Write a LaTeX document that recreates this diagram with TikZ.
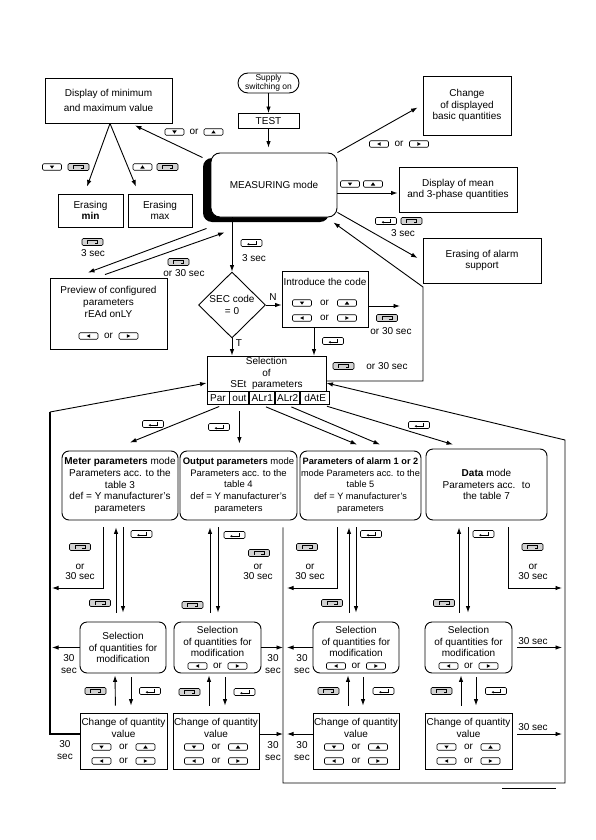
\documentclass[tikz,border=0pt]{standalone}
\usepackage{fontspec}
\setmainfont{Liberation Sans}
\usetikzlibrary{shapes.geometric,shadows,arrows.meta}

\newcounter{lc}
\newcommand{\klbl}[2]{\stepcounter{lc}\node[txt] (t\arabic{lc}) at (#1) {#2};}
\newcommand{\kkey}[2]{\stepcounter{lc}\node[#2] (k\arabic{lc}) at (#1) {};}
\newcommand{\keyor}[4]{\klbl{#1}{or}\kkey{[xshift=-#2pt]#1}{#3}\kkey{[xshift=#2pt]#1}{#4}}

\begin{document}
\begin{tikzpicture}[x=1pt, y=-1pt, line width=0.9pt,
	font=\fontsize{10}{11.7}\selectfont,
	arr/.style={-{Latex[length=6.5pt,width=4.5pt]}},
	box/.style={draw, align=center, inner sep=1pt},
	rbox/.style={box, rounded corners=7pt},
	txt/.style={inner sep=0pt, align=center},
	cell/.style={draw, minimum height=13pt, inner sep=0pt, anchor=north west},
	key/.style={draw, rounded corners=1.2pt, minimum width=19pt, minimum height=6.5pt, inner sep=0pt, line width=0.6pt},
	kdn/.style={key, path picture={\fill[sharp corners] ([shift={(-2.2pt,1.5pt)}]path picture bounding box.center) -- ++(4.4pt,0pt) -- ++(-2.2pt,-3.2pt) -- cycle;}},
	kup/.style={key, path picture={\fill[sharp corners] ([shift={(-2.2pt,-1.5pt)}]path picture bounding box.center) -- ++(4.4pt,0pt) -- ++(-2.2pt,3.2pt) -- cycle;}},
	klt/.style={key, path picture={\fill[sharp corners] ([shift={(1.6pt,1.8pt)}]path picture bounding box.center) -- ++(0pt,-3.6pt) -- ++(-3.4pt,1.8pt) -- cycle;}},
	krt/.style={key, path picture={\fill[sharp corners] ([shift={(-1.6pt,1.8pt)}]path picture bounding box.center) -- ++(0pt,-3.6pt) -- ++(3.4pt,1.8pt) -- cycle;}},
	kent/.style={key, minimum width=21pt, minimum height=7pt, path picture={\draw[line width=0.7pt, sharp corners, -{Latex[length=2.2pt,width=2.6pt]}] ([shift={(4.5pt,1.8pt)}]path picture bounding box.center) -- ++(0pt,-3pt) -- ++(-9pt,0pt);}},
	kesc/.style={key, minimum width=21pt, minimum height=7pt, fill=gray!35, path picture={\draw[line width=0.7pt, sharp corners] ([shift={(-5pt,-1.6pt)}]path picture bounding box.center) -- ++(0pt,3.2pt) -- ++(10pt,0pt) -- ++(0pt,-3.2pt) -- ++(-3pt,0pt);}}
	]
	\useasboundingbox (0,0) rectangle (596,840);

	% top part
	\node[box, rounded corners=10pt, minimum width=61pt, minimum height=20pt, inner sep=0pt, font=\fontsize{8.5}{8.5}\selectfont] (supply) at (268.5,83) {Supply\\switching on};
	\node[box, minimum width=61pt, minimum height=15pt] (test) at (268.5,121) {TEST};
	\node[rbox, rounded corners=9pt, minimum width=126pt, minimum height=64pt, fill=white, drop shadow={shadow xshift=-8pt, shadow yshift=-5pt, fill=black, opacity=1}] (meas) at (274,185) {MEASURING mode};
	\node[box, minimum width=127pt, minimum height=45pt] (minmax) at (108.5,100.5) {Display of minimum\\[3.3pt]and maximum value};
	\node[box, minimum width=65pt, minimum height=33pt] (ermin) at (90.5,210.5) {Erasing\\\textbf{min}};
	\node[box, minimum width=64pt, minimum height=33pt] (ermax) at (160,210.5) {Erasing\\max};
	\node[box, minimum width=88pt, minimum height=59pt] (chdisp) at (467,105.5) {Change\\of displayed\\basic quantities};
	\node[box, minimum width=118pt, minimum height=45pt] (mean) at (458,189.5) {Display of mean\\and 3-phase quantities};
	\node[box, minimum width=118pt, minimum height=45pt] (eralarm) at (482,260.5) {Erasing of alarm\\support};
	\node[box, minimum width=117pt, minimum height=71pt] (preview) at (108.5,313.5) {Preview of configured\\parameters\\rEAd onLY\\[11.3pt]\mbox{}};
	\node[draw, shape=diamond, minimum width=67pt, minimum height=66pt, inner sep=0pt, align=center] (sec) at (232,305) {SEC code\\= 0};
	\node[box, minimum width=86pt, minimum height=56pt] (intro) at (325,299) {Introduce the code\\[8.3pt]\mbox{}\\[3.3pt]\mbox{}};
	\node[box, minimum width=119pt, minimum height=35pt, inner sep=0pt] (sel) at (266.5,373.5) {Selection\\of\\SEt~~parameters};
	\node[cell, minimum width=22pt] (par) at (sel.south west) {Par};
	\node[cell, minimum width=19pt] (out) at (par.north east) {out};
	\node[cell, minimum width=25pt] (alr1) at (out.north east) {ALr1};
	\node[cell, minimum width=24pt] (alr2) at (alr1.north east) {ALr2};
	\node[cell, minimum width=29pt] (date) at (alr2.north east) {dAtE};

	% modes
	\node[rbox, minimum width=116pt, minimum height=69pt] (meter) at (120,485.5) {\textbf{Meter parameters} mode\\Parameters acc. to the\\table 3\\def = Y manufacturer's\\parameters};
	\node[rbox, minimum width=117pt, minimum height=69pt, font=\fontsize{9.5}{11.7}\selectfont] (outp) at (238.5,485.5) {\textbf{Output parameters} mode\\Parameters acc. to the\\table 4\\def = Y manufacturer's\\parameters};
	\node[rbox, minimum width=121pt, minimum height=69pt, font=\fontsize{9.2}{11.7}\selectfont] (alarm) at (360.5,485.5) {\textbf{Parameters of alarm 1 or 2}\\mode Parameters acc. to the\\table 5\\def = Y manufacturer's\\parameters};
	\node[rbox, minimum width=121pt, minimum height=71pt] (data) at (486.5,484.5) {\textbf{Data} mode\\Parameters acc.~ to\\the table 7};

	% selection of quantities
	\node[rbox, minimum width=86pt, minimum height=51pt] (sq1) at (123,647.5) {Selection\\of quantities for\\modification};
	\node[rbox, minimum width=87pt, minimum height=51pt] (sq2) at (217.5,647.5) {Selection\\of quantities for\\modification\\\mbox{}};
	\node[rbox, minimum width=86pt, minimum height=51pt] (sq3) at (356,647.5) {Selection\\of quantities for\\modification\\\mbox{}};
	\node[rbox, minimum width=87pt, minimum height=51pt] (sq4) at (468.5,647.5) {Selection\\of quantities for\\modification\\\mbox{}};

	% change of value
	\node[box, minimum width=87pt, minimum height=56pt] (chg1) at (123.5,741) {Change of quantity\\value\\\mbox{}\\[2.3pt]\mbox{}};
	\node[box, minimum width=86pt, minimum height=56pt] (chg2) at (216,741) {Change of quantity\\value\\\mbox{}\\[2.3pt]\mbox{}};
	\node[box, minimum width=86pt, minimum height=56pt] (chg3) at (356,741) {Change of quantity\\value\\\mbox{}\\[2.3pt]\mbox{}};
	\node[box, minimum width=87pt, minimum height=56pt] (chg4) at (468.5,741) {Change of quantity\\value\\\mbox{}\\[2.3pt]\mbox{}};

	\coordinate (io) at (400,306);
	\coordinate (rc) at (423,287);
	\coordinate (lf) at (50,412);
	\coordinate (fa) at (283,783);
	\coordinate (fc) at (565,440);
	\coordinate (jm) at (52,588);
	\coordinate (ja) at (287,588);
	\coordinate (jd) at (562,588);

	% connectors around MEASURING mode
	\draw[arr] (supply.south) -- (test.north);
	\draw[arr, shorten >=5pt] (test.south) -- (test.south |- meas.north);
	\draw[arr] ([xshift=-8pt,yshift=-5pt]meas.north west) -- ([xshift=26.5pt,yshift=-2pt]minmax.south);
	\draw[arr] ([xshift=1.5pt]minmax.south) -- ([xshift=-3.5pt,yshift=7pt]ermin.north);
	\draw[arr] ([xshift=1.5pt]minmax.south) -- ([xshift=-24pt,yshift=7pt]ermax.north);
	\draw[arr] (meas.north east) -- ([xshift=-5pt,yshift=-2pt]chdisp.west);
	\draw[arr] ([yshift=-3.5pt]mean.west -| meas.east) -- ([xshift=-1pt,yshift=-3.5pt]mean.west);
	\draw[arr] ([yshift=5pt]meas.south east) -- ([xshift=-5pt,yshift=2.5pt]eralarm.west);
	\draw[arr] ([xshift=-4pt,yshift=-11pt]meas.south west) -- ([xshift=-20.5pt,yshift=5pt]preview.north);
	\draw[arr] ([xshift=-3.5pt,yshift=3pt]preview.north) -- ([xshift=14pt,yshift=-15pt]meas.south west);
	\draw[arr] (sec.north |- meas.south) -- (sec.north);
	\draw[arr] (sec.east) -- (sec.east -| intro.west);
	\draw[arr] (sec.south) -- (sec.south |- sel.north);
	\draw[arr] ([xshift=-11pt]intro.south) -- ([xshift=-11pt]intro.south |- sel.north);
	\draw[arr] ([yshift=-7pt]intro.east) -- (io);
	\draw[arr] ([yshift=-7.5pt]sel.east) -| (rc) -- ([xshift=-4pt,yshift=-5pt]meas.south east);

	% frames
	\draw[line width=1.6pt] ([yshift=7pt]chg1.west) -| (lf);
	\draw[arr] (lf) -- ([yshift=-9.5pt]sel.west);
	\draw[arr] ([xshift=44.5pt,yshift=-7pt]outp.south) |- (fc |- fa) -- (fc) -- ([yshift=-9.5pt]sel.east);

	% selection -> modes
	\draw[arr, shorten <=3pt] ([xshift=4pt]par.south) -- ([xshift=10pt,yshift=8pt]meter.north);
	\draw[arr, shorten <=6pt, shorten >=7pt] (out.south) -- (out.south |- outp.north);
	\draw[arr, shorten <=4pt] (alr1.south) -- ([xshift=-3.5pt,yshift=6pt]alarm.north);
	\draw[arr, shorten <=4pt] (alr2.south) -- ([xshift=19.5pt,yshift=6pt]alarm.north);
	\draw[arr, shorten <=3pt] ([xshift=9pt]date.south) -- ([xshift=-33.5pt,yshift=4pt]data.north);

	% exits
	\draw[arr] ([xshift=-17pt,yshift=-7pt]meter.south) |- (jm);
	\draw[arr] ([xshift=-23.5pt,yshift=-7pt]alarm.south) |- (ja);
	\draw[arr] ([xshift=21.5pt,yshift=-7pt]data.south) |- (jd);
	\draw[arr] (sq1.west) -- (sq1.west -| jm);
	\draw[arr] (sq2.east) -- (sq2.east -| fa);
	\draw[arr] (sq3.west) -- (sq3.west -| ja);
	\draw[arr, shorten <=5pt] (sq4.east) -- (sq4.east -| jd);
	\draw[arr] ([yshift=7pt]chg2.east) -- ([yshift=7pt]chg2.east -| fa);
	\draw[arr] ([yshift=7pt]chg3.west) -- ([yshift=7pt]chg3.west -| ja);
	\draw[arr, shorten <=5pt] ([yshift=7pt]chg4.east) -- ([yshift=7pt]chg4.east -| jd);

	% up and down
	\draw[arr, shorten <=9pt, shorten >=7pt] ([xshift=-7pt]sq1.north) -- ([xshift=-4pt]meter.south);
	\draw[arr, shorten <=7pt, shorten >=9pt] ([xshift=3pt]meter.south) -- (sq1.north);
	\draw[arr, shorten <=7pt, shorten >=2pt] ([xshift=-8pt]chg1.north) -- ([xshift=-8pt]sq1.south);
	\draw[arr, shorten <=4pt, shorten >=7pt] ([xshift=8pt]sq1.south) -- ([xshift=7.5pt]chg1.north);
	\draw[arr, shorten <=9pt, shorten >=7pt] ([xshift=-7.5pt]sq2.north) -- ([xshift=-28.5pt]outp.south);
	\draw[arr, shorten <=7pt, shorten >=9pt] ([xshift=-20.5pt]outp.south) -- ([xshift=0.5pt]sq2.north);
	\draw[arr, shorten <=7pt, shorten >=2pt] ([xshift=-7pt]chg2.north) -- ([xshift=-8.5pt]sq2.south);
	\draw[arr, shorten <=4pt, shorten >=7pt] ([xshift=7.5pt]sq2.south) -- ([xshift=9pt]chg2.north);
	\draw[arr, shorten <=9pt, shorten >=7pt] ([xshift=-7pt]sq3.north) -- ([xshift=-11.5pt]alarm.south);
	\draw[arr, shorten <=7pt, shorten >=9pt] ([xshift=-4.5pt]alarm.south) -- (sq3.north);
	\draw[arr, shorten <=7pt, shorten >=2pt] ([xshift=-8pt]chg3.north) -- ([xshift=-8pt]sq3.south);
	\draw[arr, shorten <=4pt, shorten >=7pt] ([xshift=7pt]sq3.south) -- ([xshift=7pt]chg3.north);
	\draw[arr, shorten <=9pt, shorten >=7pt] ([xshift=-9.5pt]sq4.north) -- ([xshift=-27.5pt]data.south);
	\draw[arr, shorten <=7pt, shorten >=9pt] ([xshift=-18.5pt]data.south) -- ([xshift=-0.5pt]sq4.north);
	\draw[arr, shorten <=7pt, shorten >=2pt] ([xshift=-7.5pt]chg4.north) -- ([xshift=-7.5pt]sq4.south);
	\draw[arr, shorten <=4pt, shorten >=7pt] ([xshift=7.5pt]sq4.south) -- ([xshift=7.5pt]chg4.north);

	% keys and labels
	\kkey{52,167}{kdn} \kkey{78.5,167}{kesc}
	\kkey{142.5,167}{kup} \kkey{167.5,167}{kesc}
	\keyor{194,132}{19.5}{kdn}{kup}
	\keyor{399,144}{20}{klt}{krt}
	\kkey{350,184}{kdn} \kkey{373,184}{kup}
	\kkey{386,221}{kent} \kkey{411.5,221}{kesc} \klbl{403,233}{3 sec}
	\kkey{92.5,242}{kesc} \klbl{93,253}{3 sec}
	\kkey{178.5,262}{kesc} \klbl{184,273}{or 30 sec}
	\kkey{251.5,243}{kent} \klbl{254,258}{3 sec}
	\klbl{273,297}{N} \klbl{239,343}{T}
	\keyor{108.5,336}{20}{klt}{krt}
	\keyor{324.5,303}{22.5}{kdn}{kup}
	\keyor{324.5,318}{22.5}{klt}{krt}
	\kkey{333,341}{kent}
	\kkey{387,318}{kesc} \klbl{391,331}{or 30 sec}
	\kkey{343.5,366}{kesc} \klbl{387,366}{or 30 sec}
	\kkey{153,424}{kent} \kkey{219,427}{kent} \kkey{419,425}{kent}
	\kkey{80,547}{kesc} \klbl{80,572}{or\\[-1.5pt]30 sec}
	\kkey{259,553}{kesc} \klbl{258,572}{or\\[-1.5pt]30 sec}
	\kkey{307,547}{kesc} \klbl{310,572}{or\\[-1.5pt]30 sec}
	\kkey{532.5,547}{kesc} \klbl{533,572}{or\\[-1.5pt]30 sec}
	\kkey{141.5,534}{kent} \kkey{100,603}{kesc}
	\kkey{234.5,535}{kent} \kkey{192.5,605}{kesc}
	\kkey{371,534}{kent} \kkey{332,603}{kesc}
	\kkey{483.5,534}{kent} \kkey{444,603}{kesc}
	\kkey{95.5,691}{kesc} \kkey{150,691}{kent}
	\kkey{189.5,692}{kesc} \kkey{244.5,692}{kent}
	\kkey{328.5,691}{kesc} \kkey{383.5,691}{kent}
	\kkey{441.5,691}{kesc} \kkey{496,691}{kent}
	\keyor{217.5,666}{20}{klt}{krt}
	\keyor{356,666}{20}{klt}{krt}
	\keyor{468.5,666}{20}{klt}{krt}
	\keyor{123.5,747}{22}{kdn}{kup} \keyor{123.5,761}{22}{klt}{krt}
	\keyor{216,747}{22}{kdn}{kup} \keyor{216,761}{22}{klt}{krt}
	\keyor{356,747}{22}{kdn}{kup} \keyor{356,761}{22}{klt}{krt}
	\keyor{468.5,747}{22}{kdn}{kup} \keyor{468.5,761}{22}{klt}{krt}
	\klbl{69,664}{30\\sec} \klbl{65,750}{30\\sec}
	\klbl{273,664}{30\\sec} \klbl{302,664}{30\\sec}
	\klbl{273,751}{30\\sec} \klbl{302,751}{30\\sec}
	\klbl{533,641}{30 sec} \klbl{533,727}{30 sec}

	\draw[line width=0.6pt] (502,788) -- (556,788);
\end{tikzpicture}
\end{document}
